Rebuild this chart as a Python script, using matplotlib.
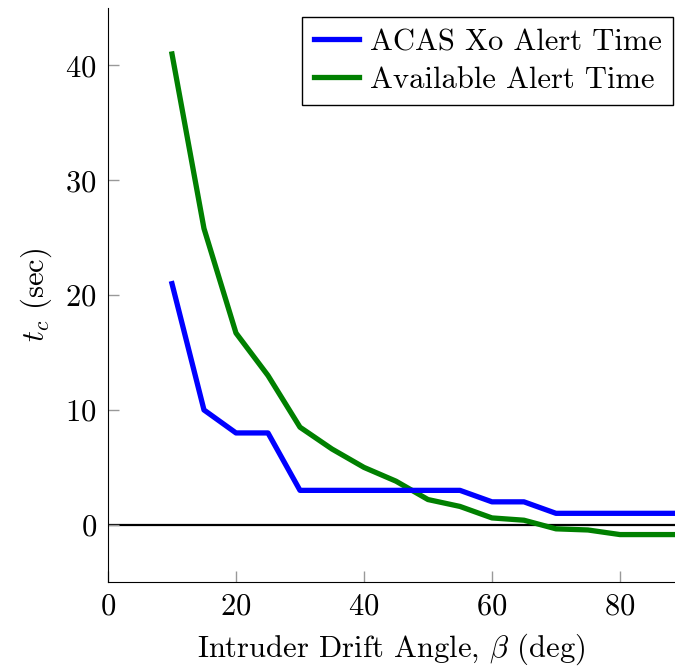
import matplotlib
matplotlib.use("Agg")
import matplotlib.pyplot as plt

plt.rcParams['font.family'] = 'serif'
plt.rcParams['font.serif'] = ['cmr10', 'DejaVu Serif']
plt.rcParams['mathtext.fontset'] = 'cm'
plt.rcParams['axes.formatter.use_mathtext'] = True

angles = [10, 15, 20, 25, 30, 35, 40, 45, 50, 55, 60, 65, 70, 75, 80, 85, 90]
acas_alert = [21, 10, 8, 8, 3, 3, 3, 3, 3, 3, 2, 2, 1, 1, 1, 1, 1]
available_alert = [41, 25.8, 16.7, 13, 8.5, 6.6, 5, 3.8, 2.2, 1.6, 0.6, 0.4, -0.35, -0.45, -0.85, -0.85, -0.85]

fig = plt.figure(figsize=(6.75, 6.7), dpi=100)
ax = fig.add_axes([0.16, 0.131, 0.84, 0.857])

ax.axhline(0, color='black', lw=1.6, zorder=1)
ax.plot(angles, acas_alert, color='#0000ff', lw=3.8, label='ACAS Xo Alert Time', zorder=3)
ax.plot(angles, available_alert, color='#008000', lw=3.8, label='Available Alert Time', zorder=2)

ax.set_xlim(0, 88.6)
ax.set_ylim(-5, 45)
ax.set_xticks([0, 20, 40, 60, 80])
ax.set_yticks([0, 10, 20, 30, 40])
ax.spines['top'].set_visible(False)
ax.spines['right'].set_visible(False)
ax.tick_params(direction='in', length=8, color='#999999', labelsize=22, width=1, pad=8)
ax.set_xlabel(r'Intruder Drift Angle, $\beta$ (deg)', fontsize=22, labelpad=8)
ax.set_ylabel(r'$t_c$ (sec)', fontsize=22, labelpad=8)

leg = ax.legend(loc='upper right', bbox_to_anchor=(0.9965, 0.9843), fontsize=22,
                fancybox=False, framealpha=1, edgecolor='black',
                handlelength=1.5, handletextpad=0.33,
                borderpad=0.38, labelspacing=0.33, borderaxespad=0)
leg.get_frame().set_linewidth(1.0)

fig.savefig('out.png', dpi=100)
